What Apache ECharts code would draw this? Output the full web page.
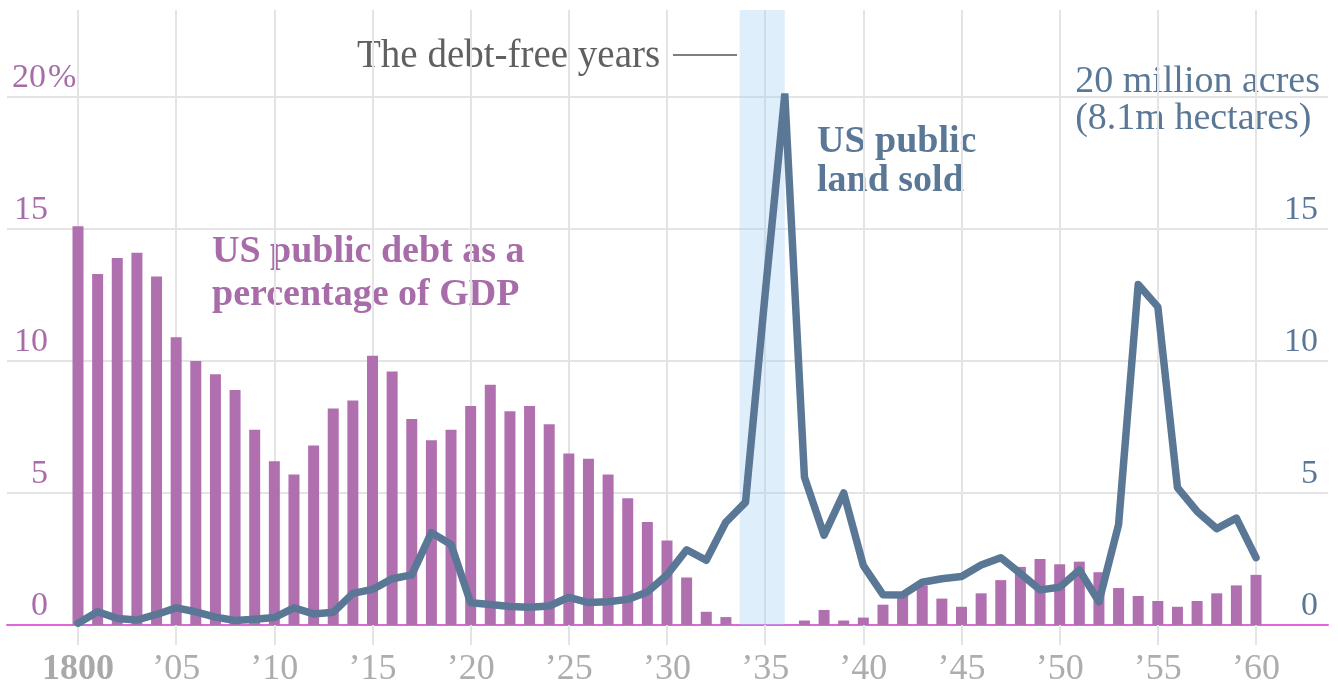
<!DOCTYPE html>
<html>
<head>
<meta charset="utf-8">
<script src="https://cdn.jsdelivr.net/npm/echarts@6/dist/echarts.min.js"></script>
<style>
  html, body { margin: 0; padding: 0; background: #fff; }
  #chart { width: 1338px; height: 688px; }
</style>
</head>
<body>
<div id="chart"></div>
<script>
const years = [1800, 1801, 1802, 1803, 1804, 1805, 1806, 1807, 1808, 1809,
  1810, 1811, 1812, 1813, 1814, 1815, 1816, 1817, 1818, 1819,
  1820, 1821, 1822, 1823, 1824, 1825, 1826, 1827, 1828, 1829,
  1830, 1831, 1832, 1833, 1834, 1835, 1836, 1837, 1838, 1839,
  1840, 1841, 1842, 1843, 1844, 1845, 1846, 1847, 1848, 1849,
  1850, 1851, 1852, 1853, 1854, 1855, 1856, 1857, 1858, 1859, 1860]

// US public debt, % of GDP
const debtPct = [15.1, 13.3, 13.9, 14.1, 13.2, 10.9, 10.0, 9.5, 8.9, 7.4,
  6.2, 5.7, 6.8, 8.2, 8.5, 10.2, 9.6, 7.8, 7.0, 7.4,
  8.3, 9.1, 8.1, 8.3, 7.6, 6.5, 6.3, 5.7, 4.8, 3.9,
  3.2, 1.8, 0.5, 0.3, null, null, null, 0.17, 0.57, 0.17,
  0.28, 0.77, 1.1, 1.5, 1.0, 0.69, 1.2, 1.7, 2.2, 2.5,
  2.3, 2.4, 2.0, 1.4, 1.1, 0.91, 0.69, 0.91, 1.2, 1.5, 1.9]

// US public land sold, million acres
const landSold = [0.07, 0.5, 0.25, 0.19, 0.4, 0.65, 0.5, 0.3, 0.17, 0.22,
  0.28, 0.65, 0.42, 0.48, 1.2, 1.35, 1.75, 1.9, 3.5, 3.05,
  0.84, 0.78, 0.7, 0.67, 0.72, 1.05, 0.85, 0.88, 0.97, 1.25,
  1.9, 2.85, 2.45, 3.9, 4.65, 12.55, 20.1, 5.6, 3.4, 5.0,
  2.25, 1.15, 1.14, 1.62, 1.75, 1.84, 2.27, 2.55, 1.95, 1.33,
  1.43, 2.08, 0.88, 3.8, 12.9, 12.05, 5.2, 4.3, 3.65, 4.05, 2.55]

// debt-free period (shaded)
const debtFree = [1833.7, 1836]

const FONT = "'Liberation Serif', 'DejaVu Serif', serif"
const PURPLE = '#b070b0'
const PURPLE_TXT = '#a86ca8'
const SLATE = '#5a7896'
const GRID = '#e4e4e4'

let chart = echarts.init(document.getElementById('chart'))

let debtData = years.map((y, i) => [y, debtPct[i]])
let landData = years.map((y, i) => [y, landSold[i]])

let option = {
  animation: false,
  grid: [
    // 0: data
    {left: 78, right: 82, top: 97, bottom: 63},
    // 1: vertical lines + band
    {left: 78, right: 82, top: 10, bottom: 63},
    // 2: horizontal lines + base line
    {left: 7, right: 10, top: 97, bottom: 63}
  ],
  xAxis: [
    {
      gridIndex: 0, type: 'value', min: 1800, max: 1860, interval: 5,
      axisLine: {show: false}, axisTick: {show: false},
      axisLabel: {show: false}, splitLine: {show: false}
    },
    {
      gridIndex: 1, type: 'value', min: 1800, max: 1860, interval: 5,
      axisLine: {show: false},
      axisTick: {show: true, length: 20, lineStyle: {color: GRID, width: 2}},
      splitLine: {show: true, lineStyle: {color: GRID, width: 2}},
      axisLabel: {
        margin: 27,
        fontFamily: FONT,
        fontSize: 36,
        color: '#adadad',
        formatter: v => v === 1800 ? '{b|1800}' : '\u2019' + String(v).slice(2),
        rich: {b: {fontFamily: FONT, fontSize: 36, fontWeight: 'bold', color: '#a9a9a9'}}
      }
    },
    {
      gridIndex: 2, type: 'value', min: 0, max: 1,
      axisLine: {show: true, lineStyle: {color: '#e066dc', width: 2}},
      axisTick: {show: false}, axisLabel: {show: false}, splitLine: {show: false}
    }
  ],
  yAxis: [
    {
      gridIndex: 0, type: 'value', min: 0, max: 20, interval: 5, position: 'left',
      axisLine: {show: false}, axisTick: {show: false}, splitLine: {show: false},
      axisLabel: {
        margin: 68,
        align: 'left',
        verticalAlign: 'bottom',
        padding: [0, 0, 2, 0],
        color: PURPLE_TXT,
        fontFamily: FONT,
        fontSize: 34,
        formatter: v => '{n|' + v + '}' + (v === 20 ? '{p|%}' : ''),
        rich: {
          n: {fontFamily: FONT, fontSize: 34, color: PURPLE_TXT, width: 38, align: 'right'},
          p: {fontFamily: FONT, fontSize: 34, color: PURPLE_TXT}
        }
      }
    },
    {
      gridIndex: 0, type: 'value', min: 0, max: 20, interval: 5, position: 'right',
      axisLine: {show: false}, axisTick: {show: false}, splitLine: {show: false},
      axisLabel: {
        margin: 62,
        align: 'right',
        verticalAlign: 'bottom',
        padding: [0, 0, 2, 0],
        color: SLATE,
        fontFamily: FONT,
        fontSize: 34,
        formatter: v => v === 20 ? '' : String(v)
      }
    },
    {gridIndex: 1, type: 'value', min: 0, max: 1, show: false},
    {
      gridIndex: 2, type: 'value', min: 0, max: 20, interval: 5,
      axisLine: {show: false}, axisTick: {show: false}, axisLabel: {show: false},
      splitLine: {show: true, lineStyle: {color: GRID, width: 2}}
    }
  ],
  series: [
    {
      name: 'band',
      type: 'line',
      xAxisIndex: 1,
      yAxisIndex: 2,
      data: [],
      silent: true,
      markArea: {
        silent: true,
        itemStyle: {color: 'rgba(160,205,240,0.35)'},
        data: [[{xAxis: debtFree[0]}, {xAxis: debtFree[1]}]]
      }
    },
    {
      name: 'US public debt as a percentage of GDP',
      type: 'bar',
      xAxisIndex: 0,
      yAxisIndex: 0,
      barWidth: 11,
      itemStyle: {color: PURPLE},
      data: debtData
    },
    {
      name: 'US public land sold',
      type: 'line',
      xAxisIndex: 0,
      yAxisIndex: 1,
      symbol: 'none',
      lineStyle: {color: SLATE, width: 7.5, cap: 'round', join: 'round'},
      data: landData,
      z: 5
    }
  ],
  graphic: [
    {
      type: 'text', left: 357, top: 37,
      style: {text: 'The debt-free years', fontFamily: FONT, fontSize: 39, fill: '#606060'}
    },
    {
      type: 'line',
      shape: {x1: 673, y1: 55, x2: 737, y2: 55},
      style: {stroke: '#555', lineWidth: 1.5}
    },
    {
      type: 'text', left: 212, top: 231,
      style: {
        text: 'US public debt as a\npercentage of GDP', fontFamily: FONT, fontSize: 38,
        fontWeight: 'bold', lineHeight: 43, fill: PURPLE_TXT
      }
    },
    {
      type: 'text', left: 817, top: 123,
      style: {
        text: 'US public\nland sold', fontFamily: FONT, fontSize: 38,
        fontWeight: 'bold', lineHeight: 39, fill: SLATE
      }
    },
    {
      type: 'text', right: 18, top: 63,
      style: {
        text: '20 million acres\n(8.1m hectares)', fontFamily: FONT, fontSize: 38,
        lineHeight: 37, fill: SLATE, align: 'right'
      }
    }
  ]
}

chart.setOption(option)
</script>
</body>
</html>
